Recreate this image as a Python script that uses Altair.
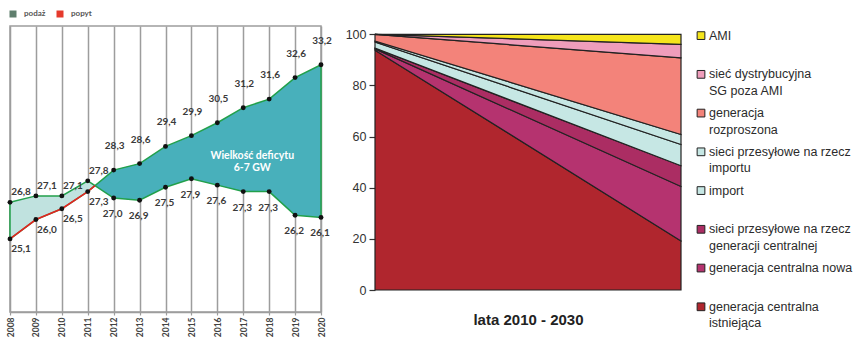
import altair as alt
import pandas as pd

# ---------------- left chart data ----------------
years = [2008, 2009, 2010, 2011, 2012, 2013, 2014, 2015, 2016, 2017, 2018, 2019, 2020]
podaz = [26.8, 27.1, 27.1, 27.8, 27.0, 26.9, 27.5, 27.9, 27.6, 27.3, 27.3, 26.2, 26.1]
popyt = [25.1, 26.0, 26.5, 27.3, 28.3, 28.6, 29.4, 29.9, 30.5, 31.2, 31.6, 32.6, 33.2]
left_legend_names = ["podaż", "popyt"]
left_legend_colors = ["#5f7e6d", "#e5392c"]
deficit_text = "Wielkość deficytu\n6-7 GW"
deficit_year = 2017

# ---------------- right chart data ----------------
stack_years = [2010, 2030]
series_names = [
    "generacja centralna istniejąca",
    "generacja centralna nowa",
    "sieci przesyłowe na rzecz generacji centralnej",
    "import",
    "sieci przesyłowe na rzecz importu",
    "generacja rozproszona",
    "sieć dystrybucyjna SG poza AMI",
    "AMI",
]
istniejaca = [93.8, 19.2]
nowa = [0.5, 21.3]
sieci_gen = [0.3, 8.1]
import_ = [2.4, 8.3]
sieci_imp = [0.4, 3.9]
rozproszona = [2.6, 30.0]
sg = [0.0, 5.3]
ami = [0.0, 3.9]
series_colors = ["#b0262e", "#b5336f", "#ab2d63", "#c6e7e4", "#c6e7e4",
                 "#f3837a", "#ef9dbb", "#f5e51b"]
legend_order = ["AMI", "sieć dystrybucyjna SG poza AMI", "generacja rozproszona",
                "sieci przesyłowe na rzecz importu", "import",
                "sieci przesyłowe na rzecz generacji centralnej",
                "generacja centralna nowa", "generacja centralna istniejąca"]
legend_line1 = ["AMI", "sieć dystrybucyjna", "generacja", "sieci przesyłowe na rzecz",
                "import", "sieci przesyłowe na rzecz", "generacja centralna nowa",
                "generacja centralna"]
legend_line2 = ["", "SG poza AMI", "rozproszona", "importu", "", "generacji centralnej",
                "", "istniejąca"]

# ---------------- build left tables ----------------
df = pd.DataFrame({"year": years, "podaz": podaz, "popyt": popyt})
# crossing point of the two lines (derived from the data)
cx, cy, ci = None, None, None
for i in range(len(years) - 1):
    d0 = podaz[i] - popyt[i]
    d1 = podaz[i + 1] - popyt[i + 1]
    if d0 * d1 < 0:
        t = d0 / (d0 - d1)
        cx = years[i] + t * (years[i + 1] - years[i])
        cy = podaz[i] + t * (podaz[i + 1] - podaz[i])
        ci = i
        break
cross = pd.DataFrame({"year": [cx], "podaz": [cy], "popyt": [cy]})
pre = pd.concat([df.iloc[: ci + 1], cross], ignore_index=True)
post = pd.concat([cross, df.iloc[ci + 1:]], ignore_index=True)

pts = pd.concat([
    pd.DataFrame({"year": years, "v": podaz}),
    pd.DataFrame({"year": years, "v": popyt}),
], ignore_index=True)

pre_up = pd.DataFrame({"year": years[: ci + 1], "v": podaz[: ci + 1]})
pre_lo = pd.DataFrame({"year": years[: ci + 1], "v": popyt[: ci + 1]})
post_up = pd.DataFrame({"year": years[ci + 1:], "v": popyt[ci + 1:]})
post_lo = pd.DataFrame({"year": years[ci + 1:], "v": podaz[ci + 1:]})

di = years.index(deficit_year)
ann = pd.DataFrame({"year": [deficit_year], "v": [(podaz[di] + popyt[di]) / 2],
                    "t": [deficit_text]})
leg_left = pd.DataFrame({"series": left_legend_names, "year": [years[0]] * 2,
                         "v": [podaz[0]] * 2})

GREEN = "#22a04b"
RED = "#e5231f"
LIGHT = "#c0e2df"
TEAL = "#48b0bb"
GRID = "#9d9d9d"

xs = alt.Scale(domain=[years[0], years[-1]], nice=False, zero=False)
ys = alt.Scale(domain=[21.7, 35.0], nice=False, zero=False)
xax = alt.Axis(values=years, format="d", labelAngle=-90, labelFontSize=8.5,
               labelFont="Lato", labelFontWeight="bold", labelColor="#444",
               tickSize=3, tickColor=GRID, tickWidth=1.2, domainColor=GRID,
               domainWidth=1.5, grid=True, gridColor=GRID, gridWidth=1.5,
               labelPadding=2, labelOverlap=False, title=None)
X = alt.X("year:Q", scale=xs, axis=xax)


def Y(field):
    return alt.Y(field + ":Q", scale=ys, axis=None)


area_pre = alt.Chart(pre).mark_area(color=LIGHT, stroke=GREEN, strokeWidth=1.5,
                                    opacity=1).encode(x=X, y=Y("podaz"), y2="popyt")
area_post = alt.Chart(post).mark_area(color=TEAL, stroke=GREEN, strokeWidth=1.5,
                                      opacity=1).encode(x=X, y=Y("podaz"), y2="popyt")
red_line = alt.Chart(pre).mark_line(color=RED, strokeWidth=1.6).encode(x=X, y=Y("popyt"))
points = alt.Chart(pts).mark_circle(color="#111", size=24, opacity=1).encode(x=X, y=Y("v"))

lab_expr = "replace(format(datum.v, '.1f'), '.', ',')"


def labels(data, dx, dy):
    return alt.Chart(data).transform_calculate(lab=lab_expr).mark_text(
        font="Lato", fontWeight="bold", fontSize=10, color="#3a3a3a",
        dx=dx, dy=dy, align="center", baseline="middle").encode(
        x=X, y=Y("v"), text="lab:N")


l1 = labels(pre_up, 11, -10)
l2 = labels(pre_lo, 11, 10)
l3 = labels(post_up, 1, -24)
l4 = labels(post_lo, -1, 16)

ann_text = alt.Chart(ann).mark_text(font="Lato", fontWeight="bold", fontSize=10.5,
                                    color="white", lineBreak="\n", dx=9, dy=6,
                                    align="center", baseline="middle",
                                    lineHeight=12).encode(x=X, y=Y("v"), text="t:N")

leg_dummy = alt.Chart(leg_left).mark_square(opacity=0).encode(
    x=X, y=Y("v"),
    color=alt.Color("series:N",
                    scale=alt.Scale(domain=left_legend_names, range=left_legend_colors),
                    legend=alt.Legend(title=None, orient="none", legendX=-1, legendY=-16,
                                      direction="horizontal", symbolType="square",
                                      symbolSize=49, symbolOpacity=1, symbolStrokeWidth=0,
                                      labelFont="Lato", labelFontWeight="bold",
                                      labelFontSize=8, labelColor="#555",
                                      labelOffset=7, columnPadding=10, padding=0)))

left = alt.layer(area_pre, area_post, red_line, points, l1, l2, l3, l4, ann_text,
                 leg_dummy).properties(
    width=311, height=286,
    view=alt.ViewBackground(stroke=GRID, strokeWidth=1.5))

# ---------------- right chart ----------------
cols = [istniejaca, nowa, sieci_gen, import_, sieci_imp, rozproszona, sg, ami]
rows = []
for k, (name, vals) in enumerate(zip(series_names, cols)):
    for yr, v in zip(stack_years, vals):
        rows.append({"year": yr, "name": name, "value": v, "idx": k})
sdf = pd.DataFrame(rows)

color_scale = alt.Scale(domain=series_names, range=series_colors)

right = alt.Chart(sdf).mark_area(stroke="#222", strokeWidth=1.2, opacity=1).encode(
    x=alt.X("year:Q", scale=alt.Scale(domain=stack_years, nice=False, zero=False),
            axis=alt.Axis(labels=False, ticks=False, domain=False, grid=False,
                          title="lata 2010 - 2030", titleFont="Liberation Sans",
                          titleFontSize=15, titleFontWeight="bold", titleColor="#222",
                          titlePadding=22)),
    y=alt.Y("value:Q", stack="zero",
            scale=alt.Scale(domain=[0, 103.25], nice=False, zero=True),
            axis=alt.Axis(values=[0, 20, 40, 60, 80, 100], grid=False, domain=False,
                          tickSize=6, tickColor="#333", tickWidth=1.2,
                          labelFont="Liberation Sans", labelFontSize=12.5,
                          labelColor="#333", labelPadding=3, title=None)),
    color=alt.Color("name:N", scale=color_scale, legend=None),
    order=alt.Order("idx:Q", sort="ascending"),
).properties(width=306, height=264)

# ---------------- manual legend panel ----------------
ldf = pd.DataFrame({"name": legend_order, "pos": list(range(len(legend_order))),
                    "l1": legend_line1, "l2": legend_line2})
lbase = alt.Chart(ldf).encode(
    y=alt.Y("pos:Q", scale=alt.Scale(domain=[-0.248, 7.496], reverse=True, nice=False,
                                     zero=False), axis=None))
lsq = lbase.mark_square(size=60, stroke="#222", strokeWidth=1, opacity=1).encode(
    x=alt.value(8), color=alt.Color("name:N", scale=color_scale, legend=None))
lt1 = lbase.mark_text(align="left", baseline="middle", font="Liberation Sans",
                      fontSize=12.5, color="#2b2b2b").encode(x=alt.value(16), text="l1:N")
lt2 = lbase.mark_text(align="left", baseline="middle", font="Liberation Sans",
                      fontSize=12.5, color="#2b2b2b", dy=16.5).encode(x=alt.value(16),
                                                                       text="l2:N")
legend_panel = alt.layer(lsq, lt1, lt2).properties(width=150, height=300)

right_group = alt.hconcat(right, legend_panel, spacing=12, bounds="flush")

chart = alt.hconcat(left, right_group, spacing=54, bounds="flush").resolve_scale(
    color="independent").properties(
    padding={"left": 5, "top": 9, "right": 0, "bottom": 0}
).configure_view(stroke=None)

chart.save("out.html", embed_options={"renderer": "svg", "actions": False})
